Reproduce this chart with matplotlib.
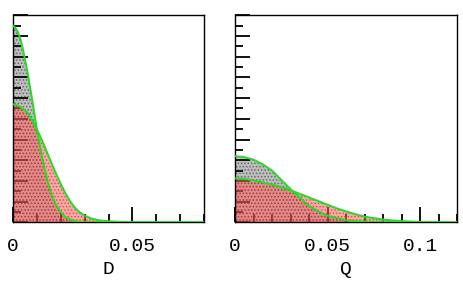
import matplotlib

matplotlib.use("Agg")
import matplotlib.pyplot as plt
from matplotlib.ticker import FixedLocator, MultipleLocator, NullFormatter

# D panel (arbitrary y units)
d_grey_x = [0, 0.001, 0.002, 0.003, 0.004, 0.006, 0.008, 0.010, 0.012, 0.014,
            0.016, 0.018, 0.020, 0.022, 0.025, 0.028, 0.032, 0.080]
d_grey_y = [19.0, 18.8, 18.4, 17.8, 16.9, 14.6, 11.9, 9.0, 6.5, 4.4,
            2.8, 1.7, 1.0, 0.5, 0.18, 0.05, 0.0, 0.0]
d_red_x = [0, 0.002, 0.004, 0.006, 0.008, 0.010, 0.012, 0.014, 0.016, 0.018,
           0.020, 0.022, 0.024, 0.026, 0.028, 0.030, 0.033, 0.036, 0.040,
           0.045, 0.050, 0.080]
d_red_y = [11.4, 11.3, 11.0, 10.6, 9.9, 9.0, 8.0, 6.9, 5.8, 4.7,
           3.7, 2.8, 2.0, 1.4, 0.95, 0.65, 0.35, 0.2, 0.1,
           0.04, 0.0, 0.0]

# Q panel
q_grey_x = [0, 0.005, 0.010, 0.015, 0.020, 0.025, 0.030, 0.035, 0.040, 0.045,
            0.050, 0.055, 0.060, 0.065, 0.070, 0.075, 0.080, 0.120]
q_grey_y = [6.4, 6.3, 6.05, 5.6, 5.0, 4.1, 3.2, 2.4, 1.6, 1.05,
            0.65, 0.4, 0.22, 0.12, 0.06, 0.03, 0.0, 0.0]
q_red_x = [0, 0.005, 0.010, 0.015, 0.020, 0.025, 0.030, 0.035, 0.040, 0.045,
           0.050, 0.055, 0.060, 0.065, 0.070, 0.075, 0.080, 0.085, 0.090,
           0.095, 0.100, 0.105, 0.120]
q_red_y = [4.25, 4.2, 4.05, 3.85, 3.65, 3.4, 3.1, 2.75, 2.4, 2.05,
           1.7, 1.35, 1.05, 0.78, 0.55, 0.4, 0.27, 0.18, 0.12,
           0.07, 0.03, 0.0, 0.0]

d_ticks = [0, 0.05]
d_ticklabels = ["0", "0.05"]
q_ticks = [0, 0.05, 0.1]
q_ticklabels = ["0", "0.05", "0.1"]

plt.rcParams["hatch.linewidth"] = 0.7
font = ["Liberation Mono", "DejaVu Sans Mono"]

fig = plt.figure(figsize=(4.63, 2.94), dpi=100)
ax_d = fig.add_axes([13 / 463, 71.7 / 294, 191 / 463, 207 / 294])
ax_q = fig.add_axes([235 / 463, 71.7 / 294, 222.3 / 463, 207 / 294])

panels = [
    (ax_d, d_grey_x, d_grey_y, d_red_x, d_red_y, 0.08, d_ticks, d_ticklabels, "D"),
    (ax_q, q_grey_x, q_grey_y, q_red_x, q_red_y, 0.12, q_ticks, q_ticklabels, "Q"),
]

for ax, gx, gy, rx, ry, xmax, ticks, labels, name in panels:
    ax.fill_between(gx, 0, gy, facecolor="#bdbdbd", edgecolor="#6a6a6a",
                    hatch=".....", linewidth=0, zorder=1)
    ax.fill_between(rx, 0, ry, facecolor="#ff6060", edgecolor="#b02020",
                    hatch=".....", linewidth=0, alpha=0.55, zorder=2)
    ax.plot(gx, gy, color="#22dd22", linewidth=1.4, zorder=3)
    ax.plot(rx, ry, color="#22dd22", linewidth=1.4, zorder=3)

    ax.set_xlim(0, xmax)
    ax.set_ylim(0, 20)

    ax.xaxis.set_major_locator(FixedLocator(ticks))
    ax.set_xticklabels(labels, family=font, fontsize=14)
    ax.xaxis.set_minor_locator(MultipleLocator(0.01))
    ax.yaxis.set_major_locator(MultipleLocator(2))
    ax.yaxis.set_minor_locator(MultipleLocator(1))
    ax.yaxis.set_major_formatter(NullFormatter())

    ax.tick_params(axis="both", which="major", direction="in", length=11,
                   width=1.4, color="#111111", pad=11.5)
    ax.tick_params(axis="both", which="minor", direction="in", length=5.5,
                   width=1.4, color="#111111")
    ax.tick_params(top=False, right=False, which="both")

    for spine in ax.spines.values():
        spine.set_linewidth(1.0)

    ax.set_xlabel(name, family=font, fontsize=14, labelpad=4)

fig.savefig("out.png", dpi=100)
